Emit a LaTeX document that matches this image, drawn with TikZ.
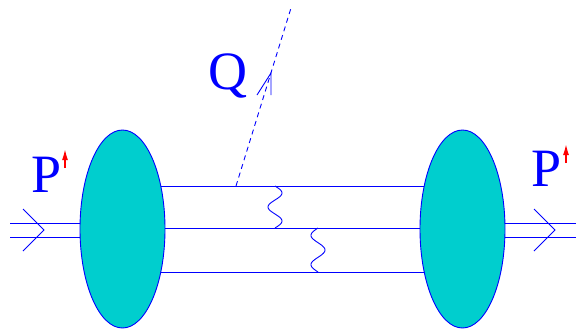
\documentclass[tikz,border=0pt]{standalone}
\usepackage{fontspec}
\setmainfont{Liberation Serif}
\usetikzlibrary{shapes.geometric,arrows.meta}
\definecolor{blobfill}{RGB}{0,206,206}
\begin{document}
\begin{tikzpicture}[x=1pt,y=-1pt,
  ln/.style={blue,line width=0.9pt},
  blob/.style={ellipse,draw=blue,line width=0.9pt,fill=blobfill,minimum width=85pt,minimum height=198pt,inner sep=0pt},
  lbl/.style={text=blue,font=\fontsize{54}{54}\selectfont,inner sep=0pt,anchor=base west},
  spin/.style={red,line width=1.4pt,-{Latex[length=11pt,width=6pt]}}]
\path[use as bounding box,fill=white] (0,0) rectangle (576,330);
% coordinates for line ends
\coordinate (a1) at (10,223); \coordinate (a2) at (123,223);
\coordinate (b1) at (10,237); \coordinate (b2) at (123,237);
\coordinate (c1) at (462,223); \coordinate (c2) at (576,223);
\coordinate (d1) at (462,237); \coordinate (d2) at (576,237);
\coordinate (t1) at (123,186); \coordinate (t2) at (462,186);
\coordinate (m1) at (123,228); \coordinate (m2) at (462,228);
\coordinate (u1) at (123,272); \coordinate (u2) at (462,272);
% lines (behind the blobs)
\draw[ln] (a1) -- (a2); \draw[ln] (b1) -- (b2);
\draw[ln] (c1) -- (c2); \draw[ln] (d1) -- (d2);
\draw[ln] (t1) -- (t2); \draw[ln] (m1) -- (m2); \draw[ln] (u1) -- (u2);
% blobs
\node[blob] (L) at (122.5,229) {};
\node[blob] (R) at (462.5,229) {};
% chevrons on incoming/outgoing lines
\draw[ln] (23,209) -- (44,230) -- (23,251);
\draw[ln] (534,209) -- (555,230) -- (534,251);
% photons
\coordinate (w1) at (275,186);
\coordinate (w2) at (318,228);
\draw[ln,shift={(w1)}] plot[domain=0:42,samples=80,smooth] ({7*sin(12.857*\x)},\x);
\draw[ln,shift={(w2)}] plot[domain=0:44,samples=80,smooth] ({-7*sin(12.2727*\x)},\x);
% virtual photon Q
\coordinate (qs) at (236,186);
\coordinate (qe) at (291,8);
\coordinate (qt) at (271,73);
\draw[blue,line width=0.9pt,dash pattern=on 5pt off 4pt] (qs) -- (qe);
\draw[ln] (257,95) -- (qt) -- (271,95);
% labels
\node[lbl] (Q) at (208,89) {Q};
\node[lbl] (PL) at (31,192) {P};
\node[lbl] (PR) at (531,186) {P};
\coordinate (sl1) at (65,168); \coordinate (sl2) at (65,149);
\coordinate (sr1) at (566,163); \coordinate (sr2) at (566,144);
\draw[spin] (sl1) -- (sl2);
\draw[spin] (sr1) -- (sr2);
\end{tikzpicture}
\end{document}
